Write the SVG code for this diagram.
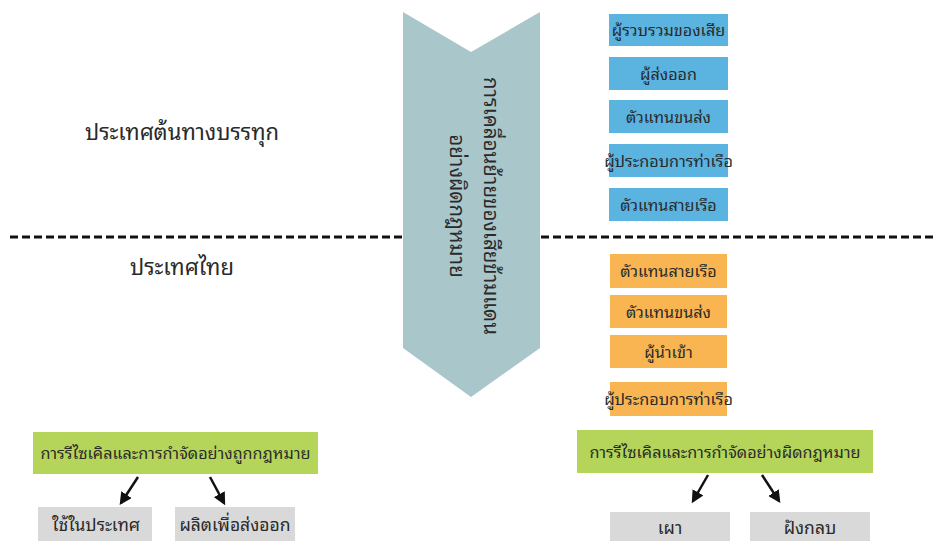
<svg xmlns="http://www.w3.org/2000/svg" width="933" height="541" viewBox="0 0 933 541">
<defs>
<style>
text{font-family:"Noto Sans Thai Looped","Loma","Garuda","Norasi","Tahoma","Noto Sans Thai","Noto Sans",sans-serif;fill:#2a2a2a;}
.lbl{font-size:22px;}
.box{font-size:16.2px;text-anchor:middle;dominant-baseline:central;}
.big{font-size:17.5px;}
.blue{fill:#5BB3E0;}
.orange{fill:#F8B552;}
.green{fill:#B5D55A;}
.gray{fill:#D9D9D9;}
.conn{stroke:#111;stroke-width:2.5;fill:none;marker-end:url(#ah);}
.dash{stroke:#111;stroke-width:3;stroke-dasharray:8 4;}
</style>
<marker id="ah" viewBox="0 0 10 10" refX="8" refY="5" markerWidth="5" markerHeight="5" orient="auto">
<path d="M0,0 L10,5 L0,10 z" fill="#111"/>
</marker>
</defs>
<rect width="933" height="541" fill="#fff"/>

<g id="divider">
<line class="dash" x1="10" y1="237" x2="402" y2="237"/>
<line class="dash" x1="541" y1="237" x2="933" y2="237"/>
</g>

<g id="label-origin"><text class="lbl" x="85" y="140">ประเทศต้นทางบรรทุก</text></g>
<g id="label-thai"><text class="lbl" x="130" y="275">ประเทศไทย</text></g>

<g id="chevron">
<polygon points="403,12 471,52 540,12 540,348 471,397 403,348" fill="#A9C6CA"/>
<g transform="translate(471,206) rotate(90)">
<text x="0" y="-13" text-anchor="middle" font-size="20.5">การเคลื่อนย้ายของเสียข้ามแดน</text>
<text x="0" y="21" text-anchor="middle" font-size="20.5">อย่างผิดกฎหมาย</text>
</g>
</g>

<g id="b1"><rect class="blue" x="609" y="14" width="119" height="32"/><text class="box" x="668.5" y="29">ผู้รวบรวมของเสีย</text></g>
<g id="b2"><rect class="blue" x="609" y="57" width="119" height="33"/><text class="box" x="668.5" y="72.5">ผู้ส่งออก</text></g>
<g id="b3"><rect class="blue" x="609" y="100" width="119" height="33"/><text class="box" x="668.5" y="115.5">ตัวแทนขนส่ง</text></g>
<g id="b4"><rect class="blue" x="609" y="144" width="119" height="33"/><text class="box" x="668.5" y="159.5">ผู้ประกอบการท่าเรือ</text></g>
<g id="b5"><rect class="blue" x="609" y="188" width="119" height="33"/><text class="box" x="668.5" y="203.5">ตัวแทนสายเรือ</text></g>

<g id="o1"><rect class="orange" x="610" y="254" width="117" height="34"/><text class="box" x="668.5" y="270">ตัวแทนสายเรือ</text></g>
<g id="o2"><rect class="orange" x="610" y="295" width="117" height="33"/><text class="box" x="668.5" y="310.5">ตัวแทนขนส่ง</text></g>
<g id="o3"><rect class="orange" x="610" y="335" width="117" height="33"/><text class="box" x="668.5" y="350.5">ผู้นำเข้า</text></g>
<g id="o4"><rect class="orange" x="610" y="382" width="117" height="34"/><text class="box" x="668.5" y="398">ผู้ประกอบการท่าเรือ</text></g>

<g id="g-legal"><rect class="green" x="33" y="432" width="285" height="42"/><text class="box" x="175.5" y="452" font-size="16.8">การรีไซเคิลและการกำจัดอย่างถูกกฎหมาย</text></g>
<g id="g-illegal"><rect class="green" x="577" y="430" width="296" height="43"/><text class="box" x="725" y="450.5" font-size="16.8">การรีไซเคิลและการกำจัดอย่างผิดกฎหมาย</text></g>

<g id="d1"><rect class="gray" x="38" y="507" width="114" height="34"/><text class="box big" x="96" y="523">ใช้ในประเทศ</text></g>
<g id="d2"><rect class="gray" x="175" y="507" width="120" height="34"/><text class="box big" x="235" y="523">ผลิตเพื่อส่งออก</text></g>
<g id="d3"><rect class="gray" x="610" y="512" width="120" height="29"/><text class="box big" x="670" y="526">เผา</text></g>
<g id="d4"><rect class="gray" x="750" y="512" width="120" height="29"/><text class="box big" x="810" y="526">ฝังกลบ</text></g>

<g id="connectors">
<line class="conn" x1="138" y1="477" x2="121" y2="503"/>
<line class="conn" x1="210" y1="477" x2="224" y2="503"/>
<line class="conn" x1="708" y1="475" x2="693" y2="501"/>
<line class="conn" x1="762" y1="475" x2="779" y2="501"/>
</g>
</svg>
